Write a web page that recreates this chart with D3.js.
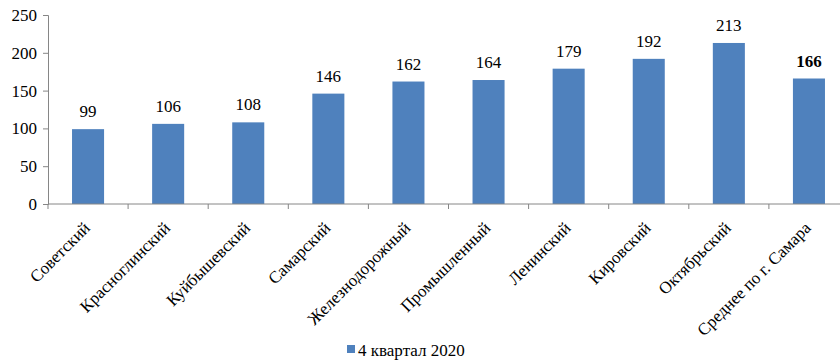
<!DOCTYPE html>
<html><head><meta charset="utf-8">
<script src="https://cdn.jsdelivr.net/npm/d3@7"></script>
<style>body{margin:0;background:#fff;}svg{display:block;}</style>
</head><body>
<svg id="c" width="840" height="361"></svg>
<script>
const categories = ["Советский","Красноглинский","Куйбышевский","Самарский","Железнодорожный","Промышленный","Ленинский","Кировский","Октябрьский","Среднее по г. Самара"];
const values = [99,106,108,146,162,164,179,192,213,166];
const yTicks = [0,50,100,150,200,250];
const seriesName = "4 квартал 2020";

const svg = d3.select("#c");
const font = "Liberation Serif, serif";
const fs = 17;
const x = d3.scaleBand().domain(categories).range([48,849]).paddingInner(0.6).paddingOuter(0.3);
const y = d3.scaleLinear().domain([0,250]).range([204,15]);
const axisColor = "#868686";

// y axis
const ya = svg.append("g").attr("transform","translate(48,0)")
  .call(d3.axisLeft(y).tickValues(yTicks).tickSize(5).tickPadding(6));
ya.attr("font-family",font).attr("font-size",fs);
ya.select(".domain").attr("stroke",axisColor);
ya.selectAll(".tick line").attr("stroke",axisColor);
ya.selectAll("text").attr("fill","#000");

// bars
svg.selectAll("rect.bar").data(values).join("rect").attr("class","bar")
  .attr("x",(d,i)=>x(categories[i])).attr("width",x.bandwidth())
  .attr("y",d=>y(d)).attr("height",d=>y(0)-y(d)).attr("fill","#4F81BD");

// x axis
const xs = d3.scalePoint().domain(d3.range(categories.length+1)).range([48,849]);
const xa = svg.append("g").attr("transform","translate(0,204)");
xa.append("line").attr("x1",48).attr("x2",849).attr("stroke",axisColor);
xa.selectAll("line.t").data(d3.range(categories.length+1)).join("line").attr("class","t")
  .attr("x1",d=>xs(d)).attr("x2",d=>xs(d)).attr("y1",0).attr("y2",5).attr("stroke",axisColor);

const g = svg.append("g").attr("font-family",font).attr("font-size",fs).attr("fill","#000");
// category labels
g.selectAll("text.cat").data(categories).join("text").attr("class","cat")
  .attr("transform",d=>`translate(${x(d)+x.bandwidth()/2+3},${229}) rotate(-45)`)
  .attr("text-anchor","end")
  .text(d=>d);

// value labels
g.selectAll("text.val").data(values).join("text").attr("class","val")
  .attr("x",(d,i)=>x(categories[i])+x.bandwidth()/2).attr("y",d=>y(d)-12)
  .attr("text-anchor","middle")
  .attr("font-weight",(d,i)=>i===values.length-1?"bold":"normal")
  .text(d=>d);

// legend
const lg = g.append("g").attr("transform","translate(347,345)");
lg.append("rect").attr("width",8).attr("height",8).attr("fill","#4F81BD");
lg.append("text").attr("x",11).attr("y",11).text(seriesName);
</script>
</body></html>
